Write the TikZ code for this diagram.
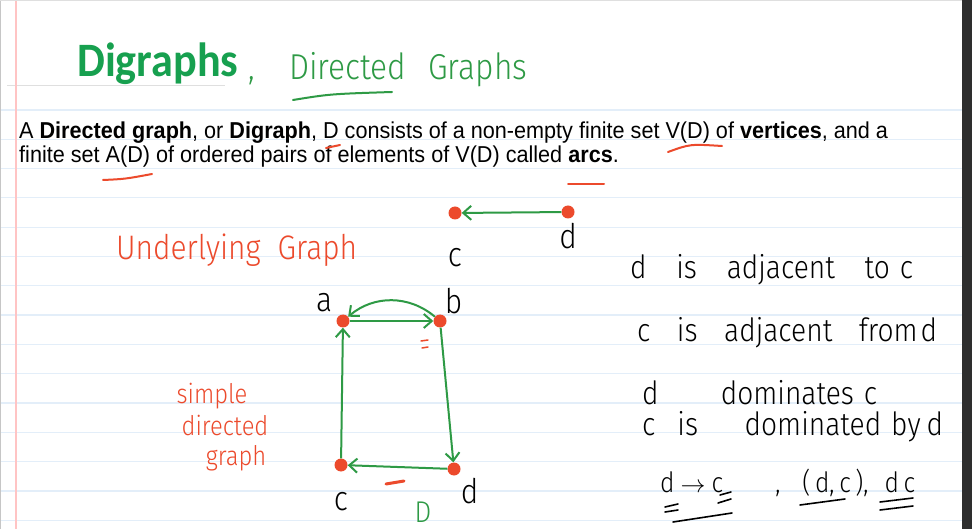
\documentclass[tikz,border=0pt]{standalone}
\usepackage{fontspec}
\usepackage{tikz}
\usetikzlibrary{arrows.meta, positioning, calc}
\setmainfont{Liberation Sans}
\newfontfamily\bodyfont{Liberation Sans}[FakeStretch=0.94]
\newfontfamily\titlefont{Carlito}[FakeStretch=0.92]
\newfontfamily\handfont{Fira Sans Light}[FakeStretch=0.88]
\newcommand{\spread}[2]{\hbox to #1{#2}}
\definecolor{Title_Green}{HTML}{17A04F}
\definecolor{Ink_Green}{HTML}{2E9A45}
\definecolor{Ink_Red}{HTML}{EC4A2C}
\definecolor{Rule_Blue}{HTML}{E3EEF9}
\definecolor{Margin_Red}{HTML}{FFC4C4}
\definecolor{Side_Gray}{HTML}{2E2E2E}

\begin{document}
\begin{tikzpicture}[x=1pt, y=-1pt, >={Straight Barb[length=8pt, width=14pt]},
    vertex/.style={circle, fill=Ink_Red, minimum size=13pt, inner sep=0pt},
    arc/.style={->, Ink_Green, line width=2pt},
    hand/.style={inner sep=0pt, font=\handfont\fontsize{34}{36}\selectfont},
    say/.style={inner sep=0pt, anchor=west, font=\handfont\fontsize{32}{34}\selectfont},
    body/.style={inner sep=0pt, anchor=base west, font=\bodyfont\fontsize{23}{26}\selectfont},
    note/.style={inner sep=0pt, text=Ink_Red, font=\handfont\fontsize{27}{29}\selectfont},
    redmark/.style={Ink_Red, line width=2pt, line cap=round},
    inkmark/.style={black, line width=1.6pt, line cap=round}]
    % page
    \useasboundingbox (0,0) rectangle (972,529);
    \clip (0,0) rectangle (972,529);
    \fill[white] (0,0) rectangle (972,529);
    \foreach \k in {0,...,14}
        \draw[Rule_Blue, line width=1.2pt] (0,{110+29.3*\k}) -- (962,{110+29.3*\k});
    \draw[gray!25, line width=0.8pt] (7,85) -- (225,85);
    \draw[Margin_Red, line width=1.4pt] (16,0) -- (16,529);
    \draw[gray!45, line width=1.5pt] (0.7,0) -- (0.7,529);
    \draw[gray!25, line width=1pt] (0,0.5) -- (962,0.5);
    \fill[Side_Gray] (962,0) rectangle (972,529);

    % title
    \node (title) [anchor=base west, inner sep=0pt, text=Title_Green, font=\titlefont\bfseries\fontsize{48}{52}\selectfont] at (77,77) {Digraphs};
    \node (subtitle) [hand, anchor=base west, text=Ink_Green, font=\handfont\fontsize{36}{40}\selectfont] at (248,80) {\spread{279pt}{,\hfil Directed\hspace{22pt}Graphs}};
    \draw[Ink_Green, line width=2pt, line cap=round] (293,100) .. controls (330,94) .. (392,92);

    % definition
    \node (line1) [body] at (19,139) {A \textbf{Directed graph}, or \textbf{Digraph}, D consists of a non-empty finite set V(D) of \textbf{vertices}, and a};
    \node (line2) [body] at (19,163) {finite set A(D) of ordered pairs of elements of V(D) called \textbf{arcs}.};
    \draw[redmark] (326,148) -- (340,145);
    \draw[redmark] (668,152) .. controls (690,144) .. (722,146);
    \draw[redmark] (103,180) .. controls (125,179) .. (152,174);
    \draw[redmark] (568,184) -- (604,184);

    % underlying graph
    \node (under) [say, text=Ink_Red, font=\handfont\fontsize{34}{36}\selectfont] at (116,250) {\spread{241pt}{Underlying\hfil Graph}};
    \node (c1) [vertex] at (455,213) {};
    \node (d1) [vertex] at (568,212) {};
    \draw[arc] (d1) -- (c1);
    \node (c1lbl) [hand, below=28pt of c1] {c};
    \node (d1lbl) [hand, below=4pt of d1] {d};

    % simple directed graph D
    \node (a) [vertex] at (343,321) {};
    \node (b) [vertex] at (440,321) {};
    \node (c) [vertex] at (341,465) {};
    \node (d) [vertex] at (454,469) {};
    \draw[arc] (a) -- (b);
    \draw[arc] (b) to[bend right=40] (a);
    \draw[arc] (c) -- (a);
    \draw[arc] (b) -- (d);
    \draw[arc] (d) -- (c);
    \node (albl) [hand, above left=4pt and 6pt of a] {a};
    \node (blbl) [hand, above right=2pt and 0pt of b] {b};
    \node (clbl) [hand, below=20pt of c] {c};
    \node (dlbl) [hand, below right=4pt and 2pt of d] {d};
    \node (dname) [hand, text=Ink_Green, font=\handfont\fontsize{30}{32}\selectfont] at (423,512) {D};
    \draw[Ink_Red, line width=1.5pt, line cap=round] (421,341) -- (428,340) (422,348) -- (428,347);
    \draw[Ink_Red, line width=3pt, line cap=round] (386,484) -- (404,481);
    \node (simple) [note] at (212,396) {simple};
    \node (directed) [note] at (225,425) {directed};
    \node (graph) [note] at (236,458) {graph};

    % terminology
    \node (s1) [say] at (630,270) {\spread{283pt}{d\hfil is\hfil adjacent\hfil to\hspace{10pt}c}};
    \node (s2) [say] at (637,333) {\spread{300pt}{c\hfil is\hfil adjacent\hfil from\hspace{3pt}d}};
    \node (s3) [say] at (642,393) {\spread{235pt}{d\hfil dominates\hspace{10pt}c}};
    \node (s4) [say] at (642,427) {\spread{301pt}{c\hspace{22pt}is\hfil dominated\hspace{10pt}by\hspace{6pt}d}};
    \node (s5) [say, font=\handfont\fontsize{28}{30}\selectfont] at (660,483) {\spread{255pt}{d\hspace{6pt}$\to$\hspace{6pt}c\hfil,\hspace{22pt}(\,d,\,c\,),\hspace{16pt}d\,c}};
    \draw[inkmark] (665,507) -- (678,504) (665,512) -- (678,510);
    \draw[inkmark] (720,495) -- (731,492) (718,503) -- (731,499);
    \draw[inkmark] (673,522) -- (732,513);
    \draw[inkmark] (800,505) -- (845,499);
    \draw[inkmark] (880,502) -- (913,498) (880,510) -- (913,506);
\end{tikzpicture}
\end{document}
